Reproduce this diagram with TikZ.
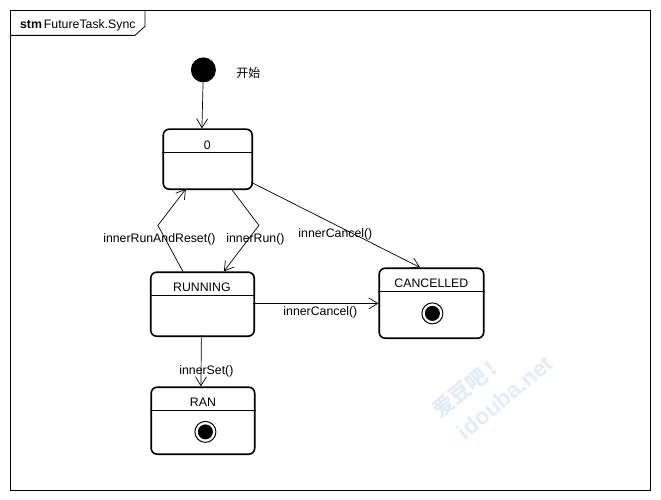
\documentclass[tikz,border=0pt]{standalone}
\usepackage{fontspec}
\setmainfont{Liberation Sans}
\newfontfamily\cjk{Noto Sans CJK SC}
\usetikzlibrary{arrows.meta}
\definecolor{wm}{HTML}{E3EDF9}
\tikzset{
  x=1pt,y=-1pt,
  every node/.style={font=\fontsize{12.3}{14}\selectfont,inner sep=0pt},
  statebox/.style={draw=black,line width=1.6pt,rounded corners=6pt,minimum width=#1,anchor=north west,inner sep=0pt},
  conn/.style={draw=black,line width=0.7pt,-{Straight Barb[length=9pt,width=11pt,line width=0.7pt]}},
  lbl/.style={fill=none,text=black},
  sep/.style={draw=black,line width=0.9pt}
}
\begin{document}
\begin{tikzpicture}
\useasboundingbox (0.6,0.6) rectangle (661.6,500.6);
\fill[white] (0.6,0.6) rectangle (661.6,500.6);
% watermark
\node[text=wm,rotate=39,font=\cjk\bfseries\fontsize{21}{23}\selectfont] (wm1) at (470,386) {爱豆吧\hspace{3pt}！};
\node[text=wm,rotate=40,font=\bfseries\fontsize{23}{25}\selectfont] (wm2) at (505.5,398) {idouba.net};
% frame
\node[draw=black,line width=0.8pt,minimum width=640pt,minimum height=480pt,anchor=north west] (frame) at (10.5,10.5) {};
\coordinate (tabA) at (145.5,10.5);
\coordinate (tabB) at (145.5,27);
\coordinate (tabC) at (135.5,36);
\coordinate (tabD) at (10.5,36);
\draw[line width=0.8pt] (tabA) -- (tabB) -- (tabC) -- (tabD);
\node[anchor=west] (title) at (20.5,25.5) {\textbf{stm}\hspace{2pt}FutureTask.Sync};
% initial
\node[circle,fill=black,minimum size=25pt] (init) at (204,70.5) {};
\node (startl) at (249,74) {\cjk\fontsize{12}{14}\selectfont 开始};
% states
\node[statebox=89pt,minimum height=60pt] (zero) at (163,129) {};
\node[statebox=103.5pt,minimum height=64pt] (running) at (150.5,272) {};
\node[statebox=104.5pt,minimum height=70pt] (cancelled) at (379,268) {};
\node[statebox=103.5pt,minimum height=67pt] (ran) at (151,387) {};
\draw[sep] (zero.north west |- 0,153.5) -- (zero.north east |- 0,153.5);
\draw[sep] (running.north west |- 0,296.5) -- (running.north east |- 0,296.5);
\draw[sep] (cancelled.north west |- 0,292.5) -- (cancelled.north east |- 0,292.5);
\draw[sep] (ran.north west |- 0,411.5) -- (ran.north east |- 0,411.5);
\node (zerol) at (208,145.5) {0};
\node (runningl) at (202.5,287.5) {RUNNING};
\node (cancelledl) at (432,283.5) {CANCELLED};
\node (ranl) at (203.5,402.5) {RAN};
% finals
\node[circle,draw=black,line width=1pt,fill=white,minimum size=21pt] (f1) at (433,314) {};
\node[circle,fill=black,minimum size=15pt] (f1i) at (f1) {};
\node[circle,draw=black,line width=1pt,fill=white,minimum size=21pt] (f2) at (206,432.5) {};
\node[circle,fill=black,minimum size=15pt] (f2i) at (f2) {};
% connectors
\coordinate (a1) at (202.5,129);
\draw[conn] (init) -- (a1);
\coordinate (b0) at (183.5,272);
\coordinate (b1) at (158.5,226);
\coordinate (b2) at (186.5,189.5);
\draw[conn] (b0) -- (b1) -- (b2);
\coordinate (c0) at (231.5,189);
\coordinate (c1) at (259.5,226);
\coordinate (c2) at (224.5,272);
\draw[conn] (c0) -- (c1) -- (c2);
\coordinate (d0) at (252,183);
\coordinate (d1) at (420.5,268);
\draw[conn] (d0) -- (d1);
\coordinate (e0) at (254,304);
\coordinate (e1) at (379,304);
\draw[conn] (e0) -- (e1);
\coordinate (g0) at (202,336);
\coordinate (g1) at (201.5,387);
\draw[conn] (g0) -- (g1);
% labels
\node[lbl] (l1) at (160,239.5) {innerRunAndReset()};
\node[lbl] (l2) at (256,240) {innerRun()};
\node[lbl] (l3) at (336,235) {innerCancel()};
\node[lbl] (l4) at (321,312.5) {innerCancel()};
\node[lbl] (l5) at (207,371.5) {innerSet()};
\end{tikzpicture}
\end{document}
